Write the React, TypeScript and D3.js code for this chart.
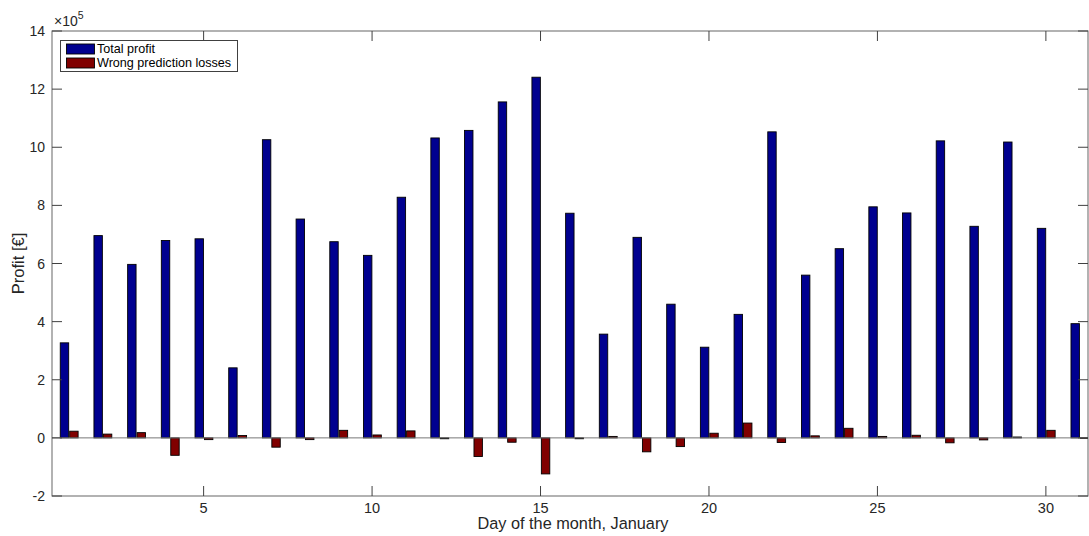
import React from "react";
import * as d3 from "d3";

const days: number[] = Array.from({ length: 31 }, (_, i) => i + 1);
const totalProfit: number[] = [
  3.27, 6.96, 5.97, 6.79, 6.85, 2.41, 10.26, 7.53, 6.75, 6.28, 8.28,
  10.32, 10.58, 11.56, 12.41, 7.73, 3.57, 6.9, 4.6, 3.12, 4.25,
  10.53, 5.6, 6.51, 7.95, 7.74, 10.22, 7.28, 10.18, 7.21, 3.93,
].map((v) => v * 1e5);
const wrongLosses: number[] = [
  0.23, 0.13, 0.18, -0.6, -0.06, 0.08, -0.32, -0.06, 0.26, 0.1, 0.24,
  -0.03, -0.64, -0.15, -1.24, -0.03, 0.05, -0.48, -0.3, 0.16, 0.51,
  -0.16, 0.07, 0.33, 0.05, 0.09, -0.17, -0.07, 0.03, 0.26, -0.01,
].map((v) => v * 1e5);
const yTicks: number[] = [-2, 0, 2, 4, 6, 8, 10, 12, 14];
const xTicks: number[] = [5, 10, 15, 20, 25, 30];
const seriesNames: string[] = ["Total profit", "Wrong prediction losses"];

const W = 1089;
const H = 536;
const left = 52;
const right = 1088;
const top = 31;
const bottom = 496;
const font = "'Liberation Sans', Arial, Helvetica, sans-serif";
const blue = "#00008f";
const red = "#800000";
const axisColor = "#404040";
const textColor = "#262626";

export default function App() {
  const x = d3.scaleLinear().domain([0.5, 31.25]).range([left, right]);
  const y = d3.scaleLinear().domain([-2e5, 14e5]).range([bottom, top]);
  const bw = 0.25;
  const tick = 10;

  const bar = (d: number, v: number, off: number, fill: string, key: string) => {
    const x0 = x(d + off);
    const x1 = x(d + off + bw);
    const ya = y(Math.max(0, v));
    const yb = y(Math.min(0, v));
    return (
      <rect
        key={key}
        x={x0}
        y={ya}
        width={x1 - x0}
        height={Math.max(0.5, yb - ya)}
        fill={fill}
        stroke="#000"
        strokeWidth={0.9}
      />
    );
  };

  return (
    <svg
      width={W}
      height={H}
      style={{ position: "absolute", left: 0, top: 0, background: "#fff" }}
      fontFamily={font}
    >
      <defs>
        <clipPath id="plotClip">
          <rect x={left} y={top} width={right - left} height={bottom - top} />
        </clipPath>
      </defs>

      <g clipPath="url(#plotClip)">
        {days.map((d, i) => bar(d, totalProfit[i], -0.255, blue, "b" + d))}
        {days.map((d, i) => bar(d, wrongLosses[i], 0.025, red, "r" + d))}
        <line x1={left} x2={right} y1={y(0)} y2={y(0)} stroke="#777" strokeWidth={1} />
      </g>

      {/* axes box */}
      <rect
        x={left}
        y={top}
        width={right - left}
        height={bottom - top}
        fill="none"
        stroke={axisColor}
        strokeWidth={1}
        opacity={0.8}
      />

      {/* y ticks, both sides */}
      {yTicks.map((t) => (
        <g key={"y" + t}>
          <line x1={left} x2={left + tick} y1={y(t * 1e5)} y2={y(t * 1e5)} stroke={axisColor} />
          <line x1={right - tick} x2={right} y1={y(t * 1e5)} y2={y(t * 1e5)} stroke={axisColor} />
          <text
            x={left - 7}
            y={y(t * 1e5)}
            textAnchor="end"
            dominantBaseline="central"
            fontSize={14}
            fill={textColor}
          >
            {t}
          </text>
        </g>
      ))}

      {/* x ticks, bottom and top */}
      {xTicks.map((t) => (
        <g key={"x" + t}>
          <line x1={x(t)} x2={x(t)} y1={bottom} y2={bottom - tick} stroke={axisColor} />
          <line x1={x(t)} x2={x(t)} y1={top} y2={top + tick} stroke={axisColor} />
          <text x={x(t)} y={bottom + 17} textAnchor="middle" fontSize={14.5} fill={textColor}>
            {t}
          </text>
        </g>
      ))}

      {/* exponent marker */}
      <text x={54} y={26} fontSize={14} fill={textColor}>
        <tspan>×10</tspan>
        <tspan dy={-7} fontSize={10.5}>5</tspan>
      </text>

      {/* axis labels */}
      <text x={(left + right) / 2 + 3} y={529} textAnchor="middle" fontSize={16.3} fill={textColor}>
        Day of the month, January
      </text>
      <text
        transform={`translate(24, ${(top + bottom) / 2}) rotate(-90)`}
        textAnchor="middle"
        fontSize={16.5}
        fill={textColor}
      >
        Profit [€]
      </text>

      {/* legend */}
      <g>
        <rect x={60.5} y={40.5} width={177} height={31} fill="#fff" stroke={axisColor} strokeWidth={1} />
        {seriesNames.map((name, i) => (
          <g key={name} transform={`translate(0, ${i * 14})`}>
            <rect x={66.5} y={44} width={28} height={10} fill={i === 0 ? blue : red} stroke="#000" strokeWidth={0.9} />
            <text x={97} y={49} dominantBaseline="central" fontSize={12.6} fill="#000">
              {name}
            </text>
          </g>
        ))}
      </g>
    </svg>
  );
}
